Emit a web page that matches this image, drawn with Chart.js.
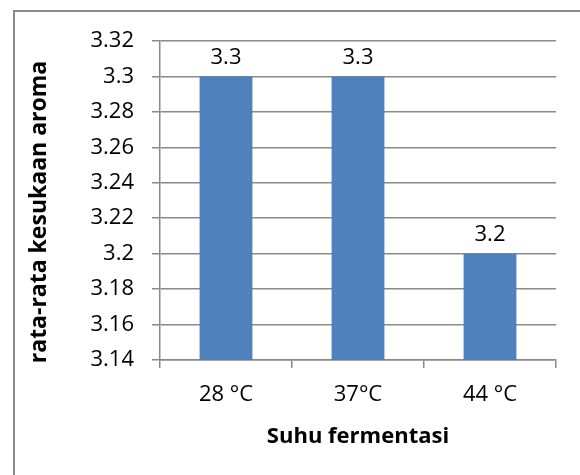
<!DOCTYPE html>
<html>
<head>
<meta charset="utf-8">
<script src="https://cdn.jsdelivr.net/npm/chart.js@4.4.0/dist/chart.umd.min.js"></script>
<style>
  html, body { margin: 0; padding: 0; background: #fff; }
  #chart { display: block; }
</style>
</head>
<body>
<canvas id="chart" width="580" height="475"></canvas>
<script>
// Mean aroma preference score per fermentation temperature (Excel-style bar chart)
const categories = ['28 °C', '37°C', '44 °C'];
const scores = [3.3, 3.3, 3.2];
const yTicks = [3.14, 3.16, 3.18, 3.2, 3.22, 3.24, 3.26, 3.28, 3.3, 3.32];
const xTitle = 'Suhu fermentasi';
const yTitle = 'rata-rata kesukaan aroma';

const BAR = '#4F81BD';
const GRID = '#898989';
const FONT = "'Open Sans', sans-serif";

Chart.defaults.font.family = FONT;
Chart.defaults.color = '#000';

// outer frame of the chart object, cropped by the window on the right/bottom
const framePlugin = {
    id: 'frame',
    beforeDraw(chart) {
        const c = chart.ctx;
        c.save();
        c.strokeStyle = GRID;
        c.lineWidth = 2;
        c.strokeRect(14, 11, chart.width + 40, chart.height + 40);
        c.restore();
    }
};

// value labels above the bars and the two axis titles
const labelPlugin = {
    id: 'labels',
    afterDatasetsDraw(chart) {
        const c = chart.ctx;
        const meta = chart.getDatasetMeta(0);
        c.save();
        c.fillStyle = '#000';
        c.textAlign = 'center';
        c.textBaseline = 'middle';
        c.font = `22px ${FONT}`;
        meta.data.forEach((bar, i) => {
            c.fillText(String(scores[i]), bar.x, bar.y - 19);
        });
        const area = chart.chartArea;
        c.font = `bold 22px ${FONT}`;
        c.fillText(xTitle, (area.left + area.right) / 2, 437);
        c.font = `bold 23px ${FONT}`;
        c.translate(39, 212);
        c.rotate(-Math.PI / 2);
        c.fillText(yTitle, 0, 0);
        c.restore();
    }
};

new Chart(document.getElementById('chart'), {
    type: 'bar',
    data: {
        labels: categories,
        datasets: [{
            data: scores,
            backgroundColor: BAR,
            borderWidth: 0,
            categoryPercentage: 1,
            barPercentage: 0.4
        }]
    },
    options: {
        responsive: false,
        animation: false,
        layout: { padding: { left: 0, top: 41, right: 24, bottom: 0 } },
        plugins: { legend: { display: false }, tooltip: { enabled: false } },
        scales: {
            x: {
                grid: { drawOnChartArea: false, color: GRID, lineWidth: 1.5, tickLength: 8, offset: true },
                border: { color: GRID, width: 1.5 },
                ticks: { font: { size: 22 }, color: '#000', padding: 14 },
                afterFit(scale) { scale.height = 115; }
            },
            y: {
                min: 3.14,
                max: 3.32,
                grid: { color: GRID, lineWidth: 1.5, tickLength: 8 },
                border: { color: GRID, width: 1.5 },
                afterBuildTicks(scale) { scale.ticks = yTicks.map(v => ({ value: v })); },
                ticks: {
                    font: { size: 22 },
                    color: '#000',
                    padding: 18,
                    callback: v => String(Math.round(v * 100) / 100)
                },
                afterFit(scale) { scale.width = 160; }
            }
        }
    },
    plugins: [framePlugin, labelPlugin]
});
</script>
</body>
</html>
